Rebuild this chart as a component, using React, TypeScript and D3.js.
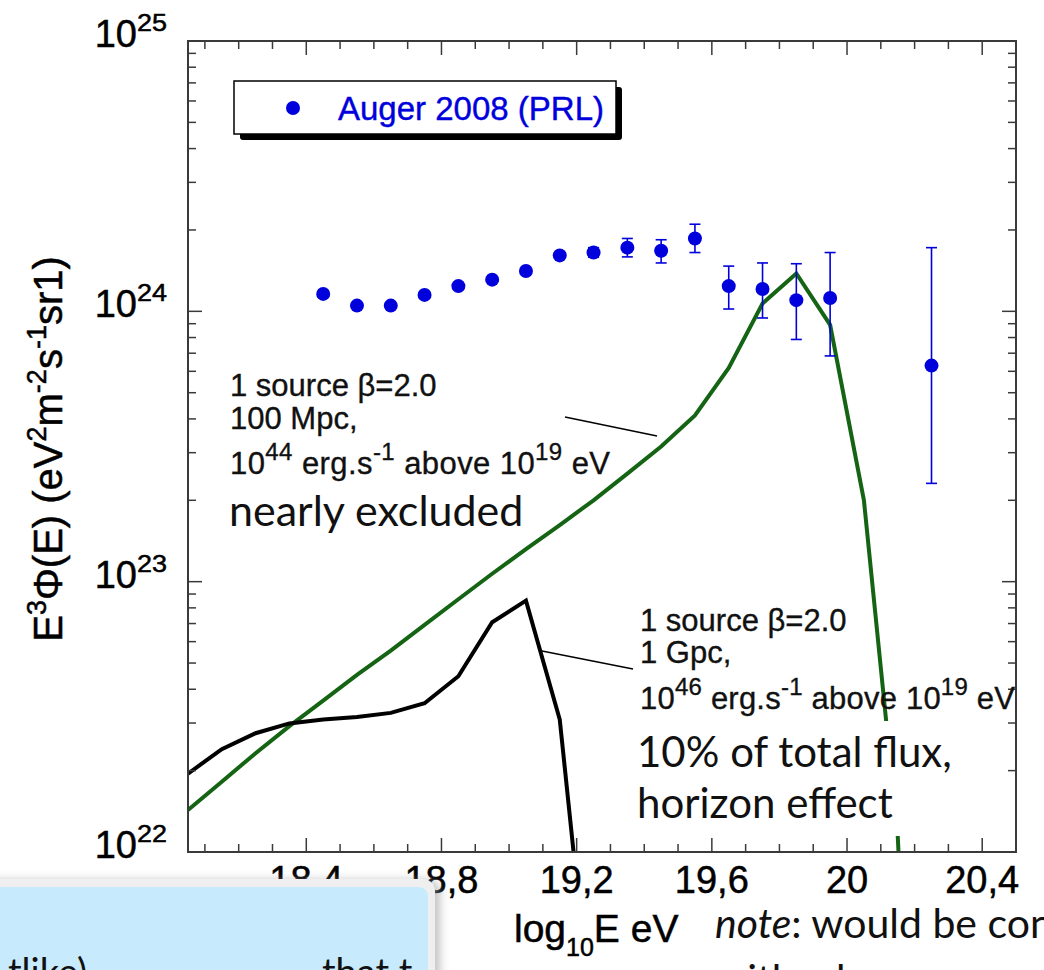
import React from "react";
import * as d3 from "d3";

// Pierre Auger 2008 (PRL) spectrum points: log10(E/eV), E^3 flux and 1-sigma bounds
const augerLogE = [18.45, 18.55, 18.65, 18.75, 18.85, 18.95, 19.05, 19.15, 19.25, 19.35, 19.45, 19.55, 19.65, 19.75, 19.85, 19.95, 20.25];
const augerFlux = [1.16e24, 1.05e24, 1.05e24, 1.15e24, 1.24e24, 1.31e24, 1.41e24, 1.61e24, 1.65e24, 1.72e24, 1.675e24, 1.86e24, 1.24e24, 1.21e24, 1.1e24, 1.12e24, 6.3e23];
const augerLow: (number | null)[] = [null, null, null, null, null, null, null, null, 1.585e24, 1.59e24, 1.51e24, 1.65e24, 1.02e24, 9.45e23, 7.87e23, 6.84e23, 2.31e23];
const augerHigh: (number | null)[] = [null, null, null, null, null, null, null, null, 1.72e24, 1.86e24, 1.84e24, 2.1e24, 1.47e24, 1.51e24, 1.5e24, 1.65e24, 1.72e24];

// Single-source model spectra (beta = 2.0)
const modelLogE = [18.05, 18.15, 18.25, 18.35, 18.45, 18.55, 18.65, 18.75, 18.85, 18.95, 19.05, 19.15, 19.25, 19.35, 19.45, 19.55, 19.65, 19.75, 19.85, 19.95, 20.05, 20.15, 20.25];
const flux100Mpc = [1.43e22, 1.82e22, 2.32e22, 2.92e22, 3.63e22, 4.52e22, 5.56e22, 6.92e22, 8.61e22, 1.07e23, 1.32e23, 1.62e23, 2.0e23, 2.51e23, 3.16e23, 4.12e23, 6.17e23, 1.07e24, 1.38e24, 8.91e23, 2.0e23, 1.15e22, 3e19];
const flux1Gpc = [1.95e22, 2.4e22, 2.75e22, 2.99e22, 3.09e22, 3.16e22, 3.27e22, 3.55e22, 4.47e22, 7.08e22, 8.51e22, 3.09e22, 1.95e21];

// Axis ticks
const xMajorTicks = [18.4, 18.8, 19.2, 19.6, 20.0, 20.4];
const xTickLabels = ["18,4", "18,8", "19,2", "19,6", "20", "20,4"];
const yDecades = [22, 23, 24, 25];

const W = 1044;
const H = 970;
const plot = { left: 188, right: 1016, top: 41, bottom: 852 };

const HELV = "'Liberation Sans', Arial, Helvetica, sans-serif";
const HUMAN = "Lato, 'Open Sans', sans-serif";
const BLUE = "#0000dc";
const GREEN = "#146414";
const FRAME = "#3a3a3a";

// a light outline gives the plot lettering the weight of the original PostScript Helvetica
const ink = { stroke: "#000", strokeWidth: 0.5 };

export default function App() {
  const x = d3.scaleLinear().domain([18.05, 20.5]).range([plot.left, plot.right]);
  const y = d3.scaleLog().domain([1e22, 1e25]).range([plot.bottom, plot.top]);

  const line = d3
    .line<[number, number]>()
    .x((d) => x(d[0]))
    .y((d) => y(d[1]));

  const path100 = line(modelLogE.map((e, i) => [e, flux100Mpc[i]] as [number, number])) || "";
  const path1G = line(flux1Gpc.map((f, i) => [modelLogE[i], f] as [number, number])) || "";

  const xMinor = d3.range(181, 205).map((v) => v / 10).filter((v) => !xMajorTicks.some((m) => Math.abs(m - v) < 1e-6));
  const yMinor: number[] = [];
  [22, 23, 24].forEach((d) => {
    for (let k = 2; k <= 9; k++) yMinor.push(k * Math.pow(10, d));
  });

  const majLen = 14;
  const minLen = 8;

  const supRaise = 14;

  return (
    <div style={{ position: "absolute", left: 0, top: 0, width: W, height: H, overflow: "hidden", background: "#fff" }}>
      <svg width={W} height={H} viewBox={`0 0 ${W} ${H}`} style={{ display: "block" }}>
        <defs>
          <clipPath id="plotArea">
            <rect x={plot.left} y={plot.top} width={plot.right - plot.left} height={plot.bottom - plot.top} />
          </clipPath>
          <filter id="softShadow" x="-20%" y="-20%" width="140%" height="140%">
            <feGaussianBlur stdDeviation="5" />
          </filter>
        </defs>
        <rect x={0} y={0} width={W} height={H} fill="#fff" />

        {/* model curves */}
        <g clipPath="url(#plotArea)">
          <path d={path100} fill="none" stroke={GREEN} strokeWidth={4} strokeLinejoin="miter" />
          <path d={path1G} fill="none" stroke="#000" strokeWidth={4} strokeLinejoin="miter" />
        </g>

        {/* data points with error bars */}
        <g>
          {augerLogE.map((e, i) => {
            const cx = x(e);
            const lo = augerLow[i];
            const hi = augerHigh[i];
            return (
              <g key={i}>
                {lo !== null && hi !== null && (
                  <g stroke={BLUE} strokeWidth={1.6}>
                    <line x1={cx} x2={cx} y1={y(lo)} y2={y(hi)} />
                    <line x1={cx - 5.5} x2={cx + 5.5} y1={y(lo)} y2={y(lo)} />
                    <line x1={cx - 5.5} x2={cx + 5.5} y1={y(hi)} y2={y(hi)} />
                  </g>
                )}
                <circle cx={cx} cy={y(augerFlux[i])} r={7} fill={BLUE} />
              </g>
            );
          })}
        </g>

        {/* frame */}
        <rect x={plot.left} y={plot.top} width={plot.right - plot.left} height={plot.bottom - plot.top} fill="none" stroke={FRAME} strokeWidth={2} />

        {/* ticks on all four sides, pointing inward */}
        <g stroke={FRAME} strokeWidth={1.5}>
          {xMajorTicks.map((t) => (
            <g key={"xM" + t}>
              <line x1={x(t)} x2={x(t)} y1={plot.bottom} y2={plot.bottom - majLen} />
              <line x1={x(t)} x2={x(t)} y1={plot.top} y2={plot.top + majLen} />
            </g>
          ))}
          {xMinor.map((t) => (
            <g key={"xm" + t}>
              <line x1={x(t)} x2={x(t)} y1={plot.bottom} y2={plot.bottom - minLen} />
              <line x1={x(t)} x2={x(t)} y1={plot.top} y2={plot.top + minLen} />
            </g>
          ))}
          {yDecades.map((d) => (
            <g key={"yM" + d}>
              <line x1={plot.left} x2={plot.left + majLen} y1={y(Math.pow(10, d))} y2={y(Math.pow(10, d))} />
              <line x1={plot.right} x2={plot.right - majLen} y1={y(Math.pow(10, d))} y2={y(Math.pow(10, d))} />
            </g>
          ))}
          {yMinor.map((v) => (
            <g key={"ym" + v}>
              <line x1={plot.left} x2={plot.left + minLen} y1={y(v)} y2={y(v)} />
              <line x1={plot.right} x2={plot.right - minLen} y1={y(v)} y2={y(v)} />
            </g>
          ))}
        </g>

        {/* y tick labels */}
        <g fontFamily={HELV} fill="#000" {...ink}>
          {yDecades.map((d) => {
            const yy = y(Math.pow(10, d)) + 6;
            return (
              <g key={"yl" + d}>
                <text x={137} y={yy} fontSize={38} textAnchor="end">10</text>
                <text x={137} y={yy - 16} fontSize={24} textLength={30} lengthAdjust="spacingAndGlyphs">{String(d)}</text>
              </g>
            );
          })}
        </g>

        {/* x tick labels */}
        <g fontFamily={HELV} fill="#000" fontSize={38} textAnchor="middle" {...ink}>
          {xMajorTicks.map((t, i) => (
            <text key={"xl" + t} x={x(t)} y={893}>{xTickLabels[i]}</text>
          ))}
        </g>

        {/* y axis title */}
        <text transform="translate(62,449) rotate(-90)" textAnchor="middle" fontFamily={HELV} fontSize={40} fill="#000" {...ink}>
          E<tspan fontSize={27} dy={-16}>3</tspan>
          <tspan dy={16}>Φ(E) (eV</tspan>
          <tspan fontSize={27} dy={-16}>2</tspan>
          <tspan dy={16}>m</tspan>
          <tspan fontSize={27} dy={-16}>-2</tspan>
          <tspan dy={16}>s</tspan>
          <tspan fontSize={27} dy={-16}>-1</tspan>
          <tspan dy={16}>sr1)</tspan>
        </text>

        {/* x axis title */}
        <text x={514} y={942} fontFamily={HELV} fontSize={39} fill="#000" {...ink}>
          log<tspan fontSize={25} dy={14}>10</tspan>
          <tspan dy={-14}>E eV</tspan>
        </text>

        {/* legend */}
        <rect x={240} y={87} width={382} height={53} fill="#000" rx={3} />
        <rect x={234} y={81} width={382} height={53} fill="#fff" stroke="#000" strokeWidth={1.5} />
        <circle cx={293} cy={108} r={7} fill={BLUE} />
        <text x={338} y={120} fontFamily={HELV} fontSize={33} fill={BLUE} stroke={BLUE} strokeWidth={0.4}>Auger 2008 (PRL)</text>

        {/* annotation: 100 Mpc source */}
        <line x1={565} y1={417} x2={657} y2={436} stroke="#000" strokeWidth={1.3} />
        <g fontFamily={HELV} fontSize={31} fill="#111" stroke="#111" strokeWidth={0.35}>
          <text x={230} y={396}>1 source β=2.0</text>
          <text x={230} y={429}>100 Mpc,</text>
          <text x={230} y={474} textLength={380} lengthAdjust="spacing">
            10<tspan fontSize={24} dy={-supRaise}>44</tspan>
            <tspan dy={supRaise}> erg.s</tspan>
            <tspan fontSize={24} dy={-supRaise}>-1</tspan>
            <tspan dy={supRaise}> above 10</tspan>
            <tspan fontSize={24} dy={-supRaise}>19</tspan>
            <tspan dy={supRaise}> eV</tspan>
          </text>
        </g>
        <text x={229} y={526} fontFamily={HUMAN} fontSize={43} fill="#111">nearly excluded</text>

        {/* annotation: 1 Gpc source */}
        <line x1={542} y1={651} x2={633} y2={669} stroke="#000" strokeWidth={1.3} />
        <g fontFamily={HELV} fontSize={31} fill="#111" stroke="#111" strokeWidth={0.35}>
          <text x={640} y={631}>1 source β=2.0</text>
          <text x={640} y={663}>1 Gpc,</text>
          <text x={640} y={709} textLength={375} lengthAdjust="spacing">
            10<tspan fontSize={24} dy={-supRaise}>46</tspan>
            <tspan dy={supRaise}> erg.s</tspan>
            <tspan fontSize={24} dy={-supRaise}>-1</tspan>
            <tspan dy={supRaise}> above 10</tspan>
            <tspan fontSize={24} dy={-supRaise}>19</tspan>
            <tspan dy={supRaise}> eV</tspan>
          </text>
        </g>
        <rect x={628} y={721} width={332} height={115} fill="#fff" />
        <g fontFamily={HUMAN} fontSize={42} fill="#111">
          <text x={637} y={767}>10% of total flux,</text>
          <text x={637} y={818}>horizon effect</text>
        </g>

        {/* side note */}
        <g fontFamily={HUMAN} fontSize={41} fill="#111">
          <text x={715} y={938}>
            <tspan fontStyle="italic">note</tspan>: would be consistent
          </text>
          <text x={715} y={994}>with a heavy composition</text>
        </g>

        {/* callout box at the lower left */}
        <rect x={-20} y={880} width={460} height={120} rx={12} fill="#9a9a9a" opacity={0.6} filter="url(#softShadow)" />
        <rect x={-20} y={879} width={455} height={120} rx={12} fill="#efefef" />
        <rect x={-20} y={887} width={448} height={110} rx={9} fill="#c7ebfc" />
        <g fontFamily={HUMAN} fontSize={38} fill="#111">
          <text x={8} y={986}>tlike)</text>
          <text x={322} y={986}>that t</text>
        </g>
      </svg>
    </div>
  );
}
